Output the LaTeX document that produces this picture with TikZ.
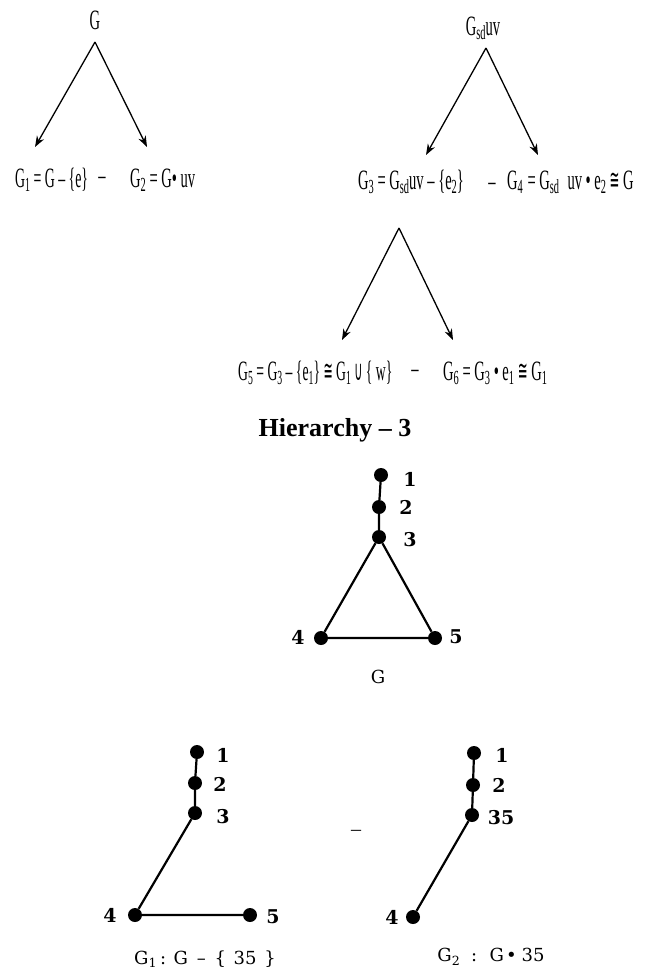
\documentclass[tikz,border=0pt]{standalone}
\usepackage{fontspec}
\setmainfont{Liberation Serif}
\newfontfamily\cond[FakeStretch=0.52]{Liberation Serif}
\newfontfamily\condsym[FakeStretch=0.42]{DejaVu Sans}
\newfontfamily\capfont{DejaVu Serif}
\usetikzlibrary{arrows.meta}
\newcommand\sbs[1]{\raisebox{-0.3ex}{\fontsize{20}{20}\selectfont #1}}
\newcommand\cg{{\condsym ≅}}
\newcommand\cu{{\condsym ∪}}
\newcommand\hsc[2]{\scalebox{#1}[1]{#2}}
\begin{document}
\begin{tikzpicture}[x=1pt,y=-1pt,
  ftxt/.style={inner sep=0pt,font=\cond\fontsize{28}{28}\selectfont},
  arr/.style={line width=1.3pt,-{Stealth[length=11pt,width=8pt]}},
  dot/.style={circle,fill=black,inner sep=0pt,minimum size=14pt},
  gedge/.style={line width=2.2pt},
  lbl/.style={inner sep=0pt,font=\capfont\bfseries\fontsize{19}{19}\selectfont},
  captxt/.style={inner sep=0pt,font=\capfont\fontsize{18}{18}\selectfont}]
\useasboundingbox (0,0) rectangle (646,970);
% ---- top left tree
\node[ftxt] (G) at (95,20) {G};
\coordinate (ta) at (95,42);
\coordinate (tl) at (35,147);
\coordinate (tr) at (147,147);
\draw[arr] (ta) -- (tl);
\draw[arr] (ta) -- (tr);
\node[ftxt,anchor=west] (G1) at (15,180) {\hsc{0.95}{G\sbs{1} = G – \{e\}}};
\node[ftxt] (d1) at (102,181) {–};
\node[ftxt,anchor=west] (G2) at (130,180) {G\sbs{2} = G• uv};
% ---- top right tree
\node[ftxt] (Gsd) at (483,28) {G\sbs{sd}uv};
\coordinate (ra) at (486,48);
\coordinate (rl) at (426,155);
\coordinate (rr) at (538,155);
\draw[arr] (ra) -- (rl);
\draw[arr] (ra) -- (rr);
\node[ftxt,anchor=west] (G3) at (358,182) {G\sbs{3} = G\sbs{sd}uv – \{e\sbs{2}\}};
\node[ftxt] (d2) at (492,187) {–};
\node[ftxt,anchor=west] (G4) at (507,182) {G\sbs{4}\,= G\sbs{sd}\, uv • e\sbs{2} \cg{} G};
% ---- middle tree
\coordinate (ma) at (399,228);
\coordinate (ml) at (342,340);
\coordinate (mr) at (453,340);
\draw[arr] (ma) -- (ml);
\draw[arr] (ma) -- (mr);
\node[ftxt,anchor=west] (G5) at (238,373) {\hsc{0.94}{G\sbs{5} = G\sbs{3} – \{e\sbs{1}\} \cg{} G\sbs{1} \cu{} \{ w\}}};
\node[ftxt] (d3) at (415,374) {–};
\node[ftxt,anchor=west] (G6) at (443,373) {G\sbs{6} = G\sbs{3} • e\sbs{1} \cg{} G\sbs{1}};
% ---- title
\node[inner sep=0pt,font=\bfseries\fontsize{26}{26}\selectfont] (title) at (335,430) {Hierarchy – 3};
% ---- graph G
\node[dot] (a1) at (381,475) {};
\node[dot] (a2) at (379,507) {};
\node[dot] (a3) at (379,537) {};
\node[dot] (a4) at (321,638) {};
\node[dot] (a5) at (435,638) {};
\draw[gedge] (a1) -- (a2) -- (a3) -- (a4) -- (a5) -- (a3);
\node[lbl] (la1) at (410,479) {1};
\node[lbl] (la2) at (406,507) {2};
\node[lbl] (la3) at (410,540) {3};
\node[lbl] (la4) at (298,637) {4};
\node[lbl] (la5) at (456,637) {5};
\node[captxt] (capG) at (378,677) {G};
% ---- graph G1
\node[dot] (b1) at (197,752) {};
\node[dot] (b2) at (195,783) {};
\node[dot] (b3) at (195,813) {};
\node[dot] (b4) at (135,915) {};
\node[dot] (b5) at (250,915) {};
\draw[gedge] (b1) -- (b2) -- (b3) -- (b4) -- (b5);
\node[lbl] (lb1) at (223,755) {1};
\node[lbl] (lb2) at (220,784) {2};
\node[lbl] (lb3) at (223,817) {3};
\node[lbl] (lb4) at (110,915) {4};
\node[lbl] (lb5) at (273,917) {5};
\node[captxt] (capG1) at (205,959) {G\textsubscript{1}\hspace{3pt}: G\hspace{3pt} –\hspace{3pt} \{\hspace{2pt} 35 \hspace{2pt}\}};
% ---- separator
\node[inner sep=0pt,font=\fontsize{20}{20}\selectfont] (d4) at (356,833) {–};
% ---- graph G2
\node[dot] (c1) at (474,753) {};
\node[dot] (c2) at (473,785) {};
\node[dot] (c3) at (472,815) {};
\node[dot] (c4) at (413,917) {};
\draw[gedge] (c1) -- (c2) -- (c3) -- (c4);
\node[lbl] (lc1) at (502,755) {1};
\node[lbl] (lc2) at (499,785) {2};
\node[lbl] (lc3) at (501,818) {35};
\node[lbl] (lc4) at (392,917) {4};
\node[captxt] (capG2) at (491,957) {G\textsubscript{2}\hspace{5pt} :\hspace{5pt} G\hspace{2pt}•\hspace{5pt}35};
\end{tikzpicture}
\end{document}
